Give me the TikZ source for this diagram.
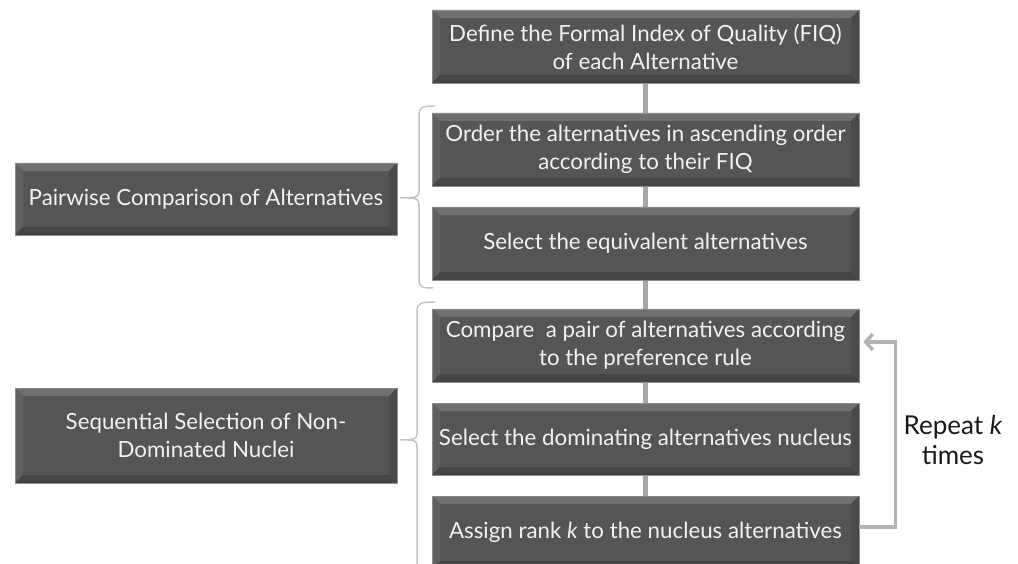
\documentclass[tikz,border=0pt]{standalone}
\usepackage{fontspec}
\setmainfont{Lato}
\usetikzlibrary{arrows.meta}
\definecolor{boxbase}{HTML}{555555}
\definecolor{bevtop}{HTML}{707070}
\definecolor{bevleft}{HTML}{616161}
\definecolor{bevright}{HTML}{4A4A4A}
\definecolor{bevbot}{HTML}{454545}
\definecolor{boxedge}{HTML}{8C8C8C}
\definecolor{boxtext}{HTML}{F2F2F2}
\definecolor{connc}{HTML}{A6A6A6}
\definecolor{bracec}{HTML}{C4C4C4}
\definecolor{loopc}{HTML}{B3B3B3}
\newcommand{\bvw}{8pt}
\tikzset{
  bevbox/.style={rectangle, fill=boxbase, draw=boxedge, line width=0.8pt,
    text=boxtext, align=center, inner sep=0pt,
    font=\fontsize{22.3}{28}\selectfont,
    path picture={
      \fill[bevtop] (path picture bounding box.north west) -- (path picture bounding box.north east)
        -- ([xshift=-\bvw,yshift=-\bvw]path picture bounding box.north east)
        -- ([xshift=\bvw,yshift=-\bvw]path picture bounding box.north west) -- cycle;
      \fill[bevleft] (path picture bounding box.north west) -- ([xshift=\bvw,yshift=-\bvw]path picture bounding box.north west)
        -- ([xshift=\bvw,yshift=\bvw]path picture bounding box.south west)
        -- (path picture bounding box.south west) -- cycle;
      \fill[bevright] (path picture bounding box.north east) -- ([xshift=-\bvw,yshift=-\bvw]path picture bounding box.north east)
        -- ([xshift=-\bvw,yshift=\bvw]path picture bounding box.south east)
        -- (path picture bounding box.south east) -- cycle;
      \fill[bevbot] (path picture bounding box.south west) -- ([xshift=\bvw,yshift=\bvw]path picture bounding box.south west)
        -- ([xshift=-\bvw,yshift=\bvw]path picture bounding box.south east)
        -- (path picture bounding box.south east) -- cycle;
    }},
  stepbox/.style={bevbox, minimum width=427pt, minimum height=73pt},
  groupbox/.style={bevbox, minimum width=382pt},
  conn/.style={draw=connc, line width=5pt},
  bracket/.style={draw=bracec, line width=1.5pt},
  loopline/.style={draw=loopc, line width=3.5pt, -{Straight Barb[length=7pt,width=16pt,line width=3.5pt]}},
  replabel/.style={align=center, text=black!90, font=\fontsize{26}{30}\selectfont},
}
\begin{document}
\begin{tikzpicture}[x=1pt, y=-1pt]
  \useasboundingbox (0,0) rectangle (1018,564);
  \begin{scope}
    \clip (0,0) rectangle (1018,564);

    % connectors behind the steps
    \coordinate (c1) at (645.5,46.5);
    \coordinate (c6) at (645.5,532.5);
    \draw[conn] (c1) -- (c6);

    % main steps
    \node[stepbox] (b1) at (645.5,46.5) {Define the Formal Index of Quality (FIQ)\\of each Alternative};
    \node[stepbox] (b2) at (645.5,149.5) {Order the alternatives in ascending order\\according to their FIQ};
    \node[stepbox] (b3) at (645.5,243.5) {Select the equivalent alternatives};
    \node[stepbox] (b4) at (645.5,345.5) {Compare~ a pair of alternatives according\\to the preference rule};
    \node[stepbox, minimum height=72pt] (b5) at (645.5,439) {Select the dominating alternatives nucleus};
    \node[stepbox] (b6) at (645.5,532.5) {Assign rank \textit{k} to the nucleus alternatives};

    % group labels
    \node[groupbox, minimum height=72pt] (g1) at (206,199) {Pairwise Comparison of Alternatives};
    \node[groupbox, minimum height=95pt] (g2) at (206,435.5) {Sequential Selection of Non-\\Dominated Nuclei};

    % brackets grouping the steps
    \draw[bracket] (435,106) .. controls (422,106) and (419,107) .. (419,116) -- (419,192)
      .. controls (419,197) and (416,198) .. (400,198);
    \draw[bracket] (409,198) .. controls (416,198) and (419,199) .. (419,205) -- (419,280)
      .. controls (419,287) and (422,288) .. (433,288);
    \draw[bracket] (435,302) .. controls (420,302) and (417,303) .. (417,312) -- (417,434)
      .. controls (417,439) and (414,440) .. (400,440);
    \draw[bracket] (408,440) .. controls (414,440) and (417,441) .. (417,447) -- (417,570);

    % repeat loop
    \draw[loopline] ([yshift=5.5pt]b6.east) -- ++(36,0) |- ([xshift=4pt,yshift=3.5pt]b4.east);
    \node[replabel] (rep) at (953,440) {Repeat \textit{k}\\times};
  \end{scope}
\end{tikzpicture}
\end{document}
